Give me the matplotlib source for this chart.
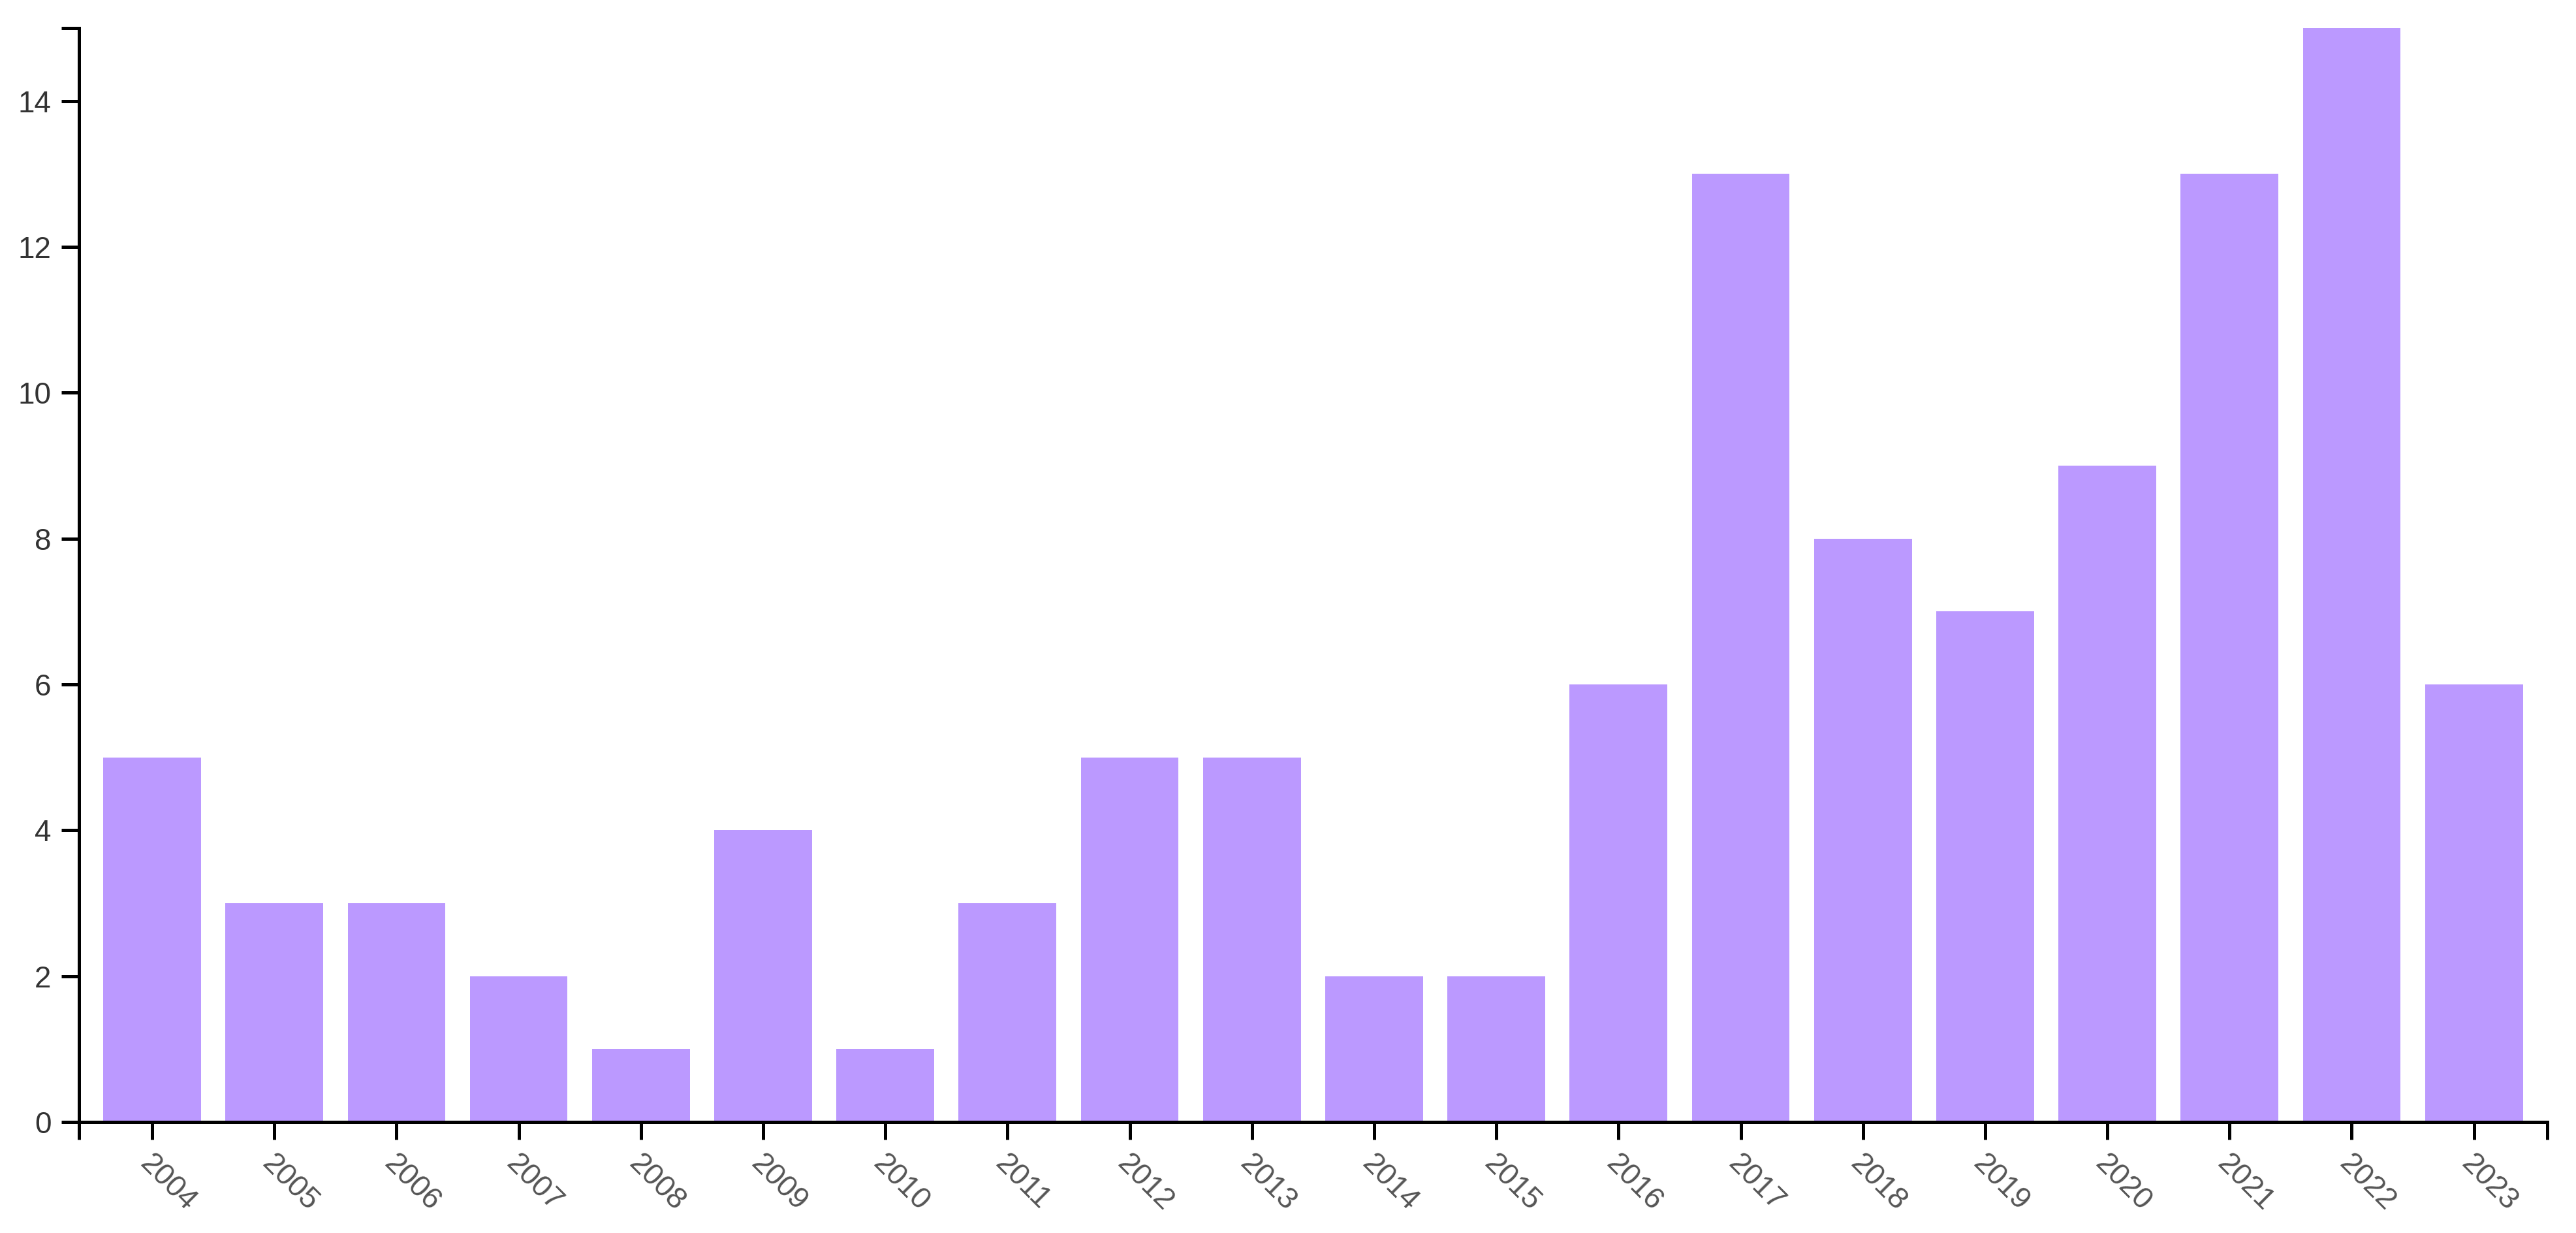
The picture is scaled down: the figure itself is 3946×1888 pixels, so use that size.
import matplotlib
matplotlib.use("Agg")
import matplotlib.pyplot as plt
from matplotlib.transforms import ScaledTranslation

years = ["2004", "2005", "2006", "2007", "2008", "2009", "2010", "2011", "2012", "2013",
         "2014", "2015", "2016", "2017", "2018", "2019", "2020", "2021", "2022", "2023"]
counts = [5, 3, 3, 2, 1, 4, 1, 3, 5, 5, 2, 2, 6, 13, 8, 7, 9, 13, 15, 6]
y_ticks = [0, 2, 4, 6, 8, 10, 12, 14]

plt.rcParams['font.family'] = ['Liberation Sans', 'DejaVu Sans']

W, H, DPI = 3946, 1888, 100
fig = plt.figure(figsize=(W / DPI, H / DPI), dpi=DPI)
left, right = 120.7 / W, 3902 / W
bottom, top = (H - 1718) / H, (H - 43) / H
ax = fig.add_axes([left, bottom, right - left, top - bottom])

x = list(range(len(years)))
ax.bar(x, counts, width=0.8, color="#bb99ff", edgecolor="none", clip_on=False, zorder=1)

ax.set_xlim(-0.6, len(years) - 0.4)
ax.set_ylim(0, 15)

for s in ["top", "right"]:
    ax.spines[s].set_visible(False)
for s in ["left", "bottom"]:
    ax.spines[s].set_linewidth(3.6)
    ax.spines[s].set_color("black")
    ax.spines[s].set_zorder(3)

ax.set_xticks(x)
ax.set_xticklabels(years)
ax.set_xticks([-0.6, len(years) - 0.4], minor=True)
ax.set_yticks(y_ticks)
ax.set_yticklabels([str(v) for v in y_ticks])
ax.set_yticks([15], minor=True)

ax.tick_params(axis="both", which="both", length=19.5, width=3.6, color="black")
ax.tick_params(axis="y", which="major", labelsize=33, labelcolor="#333333", pad=10.8)
ax.tick_params(axis="x", which="major", labelsize=33, labelcolor="#555555", pad=22)

for lab in ax.get_xticklabels():
    lab.set_rotation(-45)
    lab.set_rotation_mode("anchor")
    lab.set_ha("left")
    lab.set_va("center")
    lab.set_transform(lab.get_transform() + ScaledTranslation(-12 / DPI, 0, fig.dpi_scale_trans))

fig.savefig("out.png", dpi=DPI, facecolor="white")
